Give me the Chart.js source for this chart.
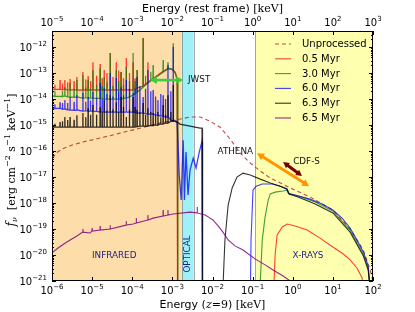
<!DOCTYPE html>
<html lang="en">
<head>
<meta charset="UTF-8">
<title>Spectra at z=9</title>
<script src="https://cdn.jsdelivr.net/npm/chart.js@4.4.0/dist/chart.umd.min.js"></script>
<style>
    body { margin: 0; background: white; }
    #wrap { width: 415px; height: 312px; }
</style>
</head>
<body>
<div id="wrap"><canvas id="sed" width="415" height="312"></canvas></div>
<script>
// every value below is log10: energy in keV (observed frame, z=9) and f_nu in erg cm^-2 s^-1 keV^-1
const unprocessed = [[-5.98,-16.27],[-5.90,-16.08],[-5.75,-15.92],[-5.50,-15.77],[-5.23,-15.65],[-4.80,-15.50],[-4.30,-15.31],[-3.81,-15.12],[-3.31,-14.92],[-2.93,-14.81],[-2.56,-14.69],[-2.31,-14.69],[-2.06,-14.85],[-1.81,-15.08],[-1.56,-15.54],[-1.31,-16.08],[-1.06,-16.46],[-0.81,-16.77],[-0.56,-17.04],[-0.11,-17.38],[0.43,-17.77],[1.00,-18.27],[1.43,-19.00],[1.76,-19.81],[1.93,-20.58],[2.00,-21.00]];

// continuum pieces, then emission lines as [energy, base, peak]
const redIR = [[-6.00,-13.62],[-5.30,-13.65],[-4.55,-13.65],[-4.05,-13.65],[-3.88,-13.58],[-3.73,-13.50],[-3.61,-13.35],[-3.43,-13.15],[-3.26,-12.96],[-3.11,-12.85],[-3.01,-12.85],[-2.93,-12.96],[-2.88,-13.19],[-2.87,-22]];
const redLines = [[-5.80,-13.62,-13.27],[-5.68,-13.62,-13.27],[-5.55,-13.65,-13.23],[-5.38,-13.65,-13.15],[-5.23,-13.65,-12.96],[-5.10,-13.65,-13.12],[-4.98,-13.65,-12.58],[-4.80,-13.65,-12.65],[-4.70,-13.65,-12.88],[-4.55,-13.65,-12.23],[-4.40,-13.65,-12.58],[-4.28,-13.65,-12.96],[-4.15,-13.65,-12.42],[-3.98,-13.65,-12.58],[-3.88,-13.58,-12.88],[-3.73,-13.50,-11.65],[-3.61,-13.35,-12.58],
    [-5.93,-13.63,-13.45],[-5.74,-13.64,-13.40],[-5.61,-13.64,-13.35],[-5.45,-13.64,-13.30],[-5.16,-13.65,-13.25],[-5.04,-13.65,-13.30],[-4.89,-13.65,-13.10],[-4.75,-13.65,-13.20],[-4.63,-13.65,-13.00],[-4.48,-13.65,-13.15],[-4.34,-13.65,-12.90],[-4.22,-13.65,-13.20],[-4.07,-13.65,-13.00],[-3.93,-13.60,-13.20]];
const redX = [[-0.49,-22],[-0.44,-20.00],[-0.39,-19.23],[-0.26,-18.92],[-0.14,-18.81],[0.06,-18.88],[0.36,-19.04],[0.68,-19.35],[1.00,-19.69],[1.26,-19.96],[1.43,-20.19],[1.60,-20.50],[1.73,-20.88],[1.76,-22]];

const greenIR = [[-6.00,-13.88],[-5.55,-13.92],[-5.05,-13.96],[-4.55,-14.00],[-4.18,-13.96],[-3.98,-13.85],[-3.81,-13.65],[-3.61,-13.38],[-3.43,-13.19],[-3.26,-13.00],[-3.11,-12.81],[-3.01,-12.85],[-2.93,-13.00],[-2.88,-13.27],[-2.865,-22]];
const greenLines = [[-5.68,-13.88,-13.54],[-5.55,-13.92,-13.38],[-5.38,-13.92,-13.27],[-5.23,-13.96,-13.08],[-5.10,-13.96,-13.27],[-4.98,-13.96,-12.88],[-4.80,-13.96,-12.81],[-4.70,-14.00,-13.15],[-4.55,-14.00,-12.23],[-4.40,-14.00,-12.88],[-4.28,-14.00,-12.96],[-4.15,-13.96,-12.77],[-3.98,-13.85,-12.23],[-3.88,-13.73,-12.88],[-3.73,-13.54,-11.65],[-3.48,-13.23,-12.69],[-3.23,-12.96,-12.50],[-3.11,-12.81,-12.58],[-2.98,-12.88,-11.85],
    [-5.93,-13.89,-13.70],[-5.74,-13.90,-13.70],[-5.61,-13.91,-13.65],[-5.45,-13.93,-13.60],[-5.16,-13.95,-13.55],[-5.04,-13.96,-13.60],[-4.89,-13.97,-13.45],[-4.75,-13.98,-13.50],[-4.63,-13.99,-13.35],[-4.48,-14.00,-13.50],[-4.34,-14.00,-13.30],[-4.22,-13.97,-13.45],[-4.07,-13.92,-13.30],[-3.93,-13.80,-13.30],[-3.67,-13.46,-13.10],[-3.54,-13.30,-12.95]];
const greenX = [[-0.84,-22],[-0.76,-19.42],[-0.69,-18.54],[-0.61,-17.88],[-0.56,-17.65],[-0.44,-17.58],[-0.24,-17.54],[-0.14,-17.50],[-0.09,-17.65],[0.13,-17.73],[0.56,-17.96],[1.00,-18.31],[1.43,-19.04],[1.76,-19.96],[1.88,-20.50],[1.97,-22]];

const blueIR = [[-6.00,-14.35],[-5.55,-14.42],[-5.05,-14.46],[-4.55,-14.50],[-4.05,-14.50],[-3.56,-14.58],[-3.18,-14.69],[-2.93,-14.85],[-2.88,-14.92],[-2.83,-16.92],[-2.78,-17.88],[-2.73,-15.58],[-2.70,-17.88],[-2.66,-16.04],[-2.61,-17.69],[-2.56,-16.73],[-2.48,-16.27],[-2.41,-16.65],[-2.33,-16.04],[-2.26,-15.62],[-2.25,-22]];
const blueLines = [[-5.80,-14.35,-14.12],[-5.68,-14.38,-14.04],[-5.55,-14.42,-13.92],[-5.38,-14.42,-13.85],[-5.23,-14.46,-13.77],[-5.10,-14.46,-13.92],[-4.98,-14.46,-13.73],[-4.80,-14.50,-13.38],[-4.70,-14.50,-13.58],[-4.55,-14.50,-13.00],[-4.40,-14.50,-13.19],[-4.28,-14.50,-13.54],[-4.15,-14.50,-13.27],[-3.98,-14.50,-13.77],[-3.88,-14.54,-13.15],[-3.73,-14.54,-13.92],[-3.61,-14.58,-12.88],[-3.48,-14.58,-13.65],[-3.36,-14.62,-14.04],[-3.23,-14.65,-13.85],[-3.11,-14.69,-12.69],[-2.98,-14.85,-12.00],
    [-5.93,-14.36,-14.20],[-5.74,-14.39,-14.15],[-5.61,-14.41,-14.15],[-5.45,-14.43,-14.10],[-5.16,-14.45,-14.10],[-5.04,-14.46,-14.05],[-4.89,-14.47,-13.95],[-4.75,-14.48,-14.00],[-4.63,-14.49,-13.80],[-4.48,-14.50,-13.90],[-4.34,-14.50,-13.70],[-4.22,-14.50,-13.85],[-4.07,-14.50,-13.60],[-3.93,-14.52,-13.60],[-3.81,-14.54,-13.50],[-3.67,-14.56,-13.60],[-3.54,-14.58,-13.70],[-3.42,-14.61,-13.90],[-3.29,-14.65,-13.80],[-3.17,-14.69,-14.00],[-3.04,-14.80,-13.70]];
const blueX = [[-1.06,-22],[-1.04,-19.42],[-0.99,-17.50],[-0.91,-17.35],[-0.76,-17.27],[-0.51,-17.27],[-0.31,-17.35],[-0.16,-17.46],[-0.11,-17.62],[0.06,-17.69],[0.43,-17.85],[0.73,-18.04],[1.00,-18.27],[1.23,-18.58],[1.43,-18.96],[1.60,-19.42],[1.76,-19.88],[1.88,-20.42],[1.97,-22]];

const blackIR = [[-6.00,-15.08],[-5.30,-15.08],[-4.55,-15.08],[-3.81,-15.04],[-3.31,-14.96],[-3.01,-14.85],[-2.91,-14.85],[-2.81,-14.96],[-2.56,-15.04],[-2.31,-15.12],[-2.26,-15.12],[-2.25,-22]];
const blackLines = [[-5.80,-15.08,-14.88],[-5.68,-15.08,-14.69],[-5.55,-15.08,-14.69],[-5.38,-15.08,-14.62],[-5.23,-15.08,-14.54],[-5.10,-15.08,-14.35],[-4.98,-15.08,-14.23],[-4.80,-15.08,-14.31],[-4.70,-15.08,-14.04],[-4.55,-15.08,-13.85],[-4.40,-15.08,-14.12],[-4.28,-15.08,-13.92],[-4.15,-15.08,-14.69],[-3.98,-15.08,-13.92],[-3.88,-15.06,-14.42],[-3.73,-15.04,-14.15],[-3.61,-15.04,-14.35],[-3.48,-15.02,-14.54],[-3.36,-15.00,-14.50],[-3.23,-14.96,-14.23],[-3.11,-14.92,-13.85],[-2.98,-14.85,-13.46],
    [-5.93,-15.08,-14.95],[-5.74,-15.08,-14.85],[-5.61,-15.08,-14.80],[-5.45,-15.08,-14.80],[-5.16,-15.08,-14.70],[-5.04,-15.08,-14.60],[-4.89,-15.08,-14.60],[-4.75,-15.08,-14.50],[-4.63,-15.08,-14.45],[-4.48,-15.08,-14.40],[-4.34,-15.08,-14.50],[-4.22,-15.08,-14.30],[-4.07,-15.08,-14.40],[-3.93,-15.07,-14.30],[-3.81,-15.04,-14.50],[-3.67,-15.03,-14.60],[-3.54,-15.01,-14.50],[-3.42,-14.99,-14.60],[-3.29,-14.96,-14.70],[-3.17,-14.92,-14.60],[-3.04,-14.86,-14.50]];
const blackX = [[-1.76,-22],[-1.69,-19.42],[-1.61,-18.08],[-1.51,-17.42],[-1.39,-17.00],[-1.24,-16.85],[-1.06,-16.92],[-0.81,-17.08],[-0.56,-17.23],[-0.26,-17.38],[-0.14,-17.46],[-0.09,-17.65],[0.13,-17.77],[0.56,-18.04],[1.00,-18.38],[1.43,-19.12],[1.76,-20.04],[1.88,-20.58],[1.97,-22]];

const purple = [[-6.00,-19.92],[-5.85,-19.73],[-5.63,-19.50],[-5.38,-19.27],[-5.05,-19.15],[-4.55,-19.00],[-3.98,-18.81],[-3.48,-18.58],[-2.98,-18.42],[-2.56,-18.35],[-2.38,-18.38],[-2.18,-18.46],[-2.06,-18.58],[-1.99,-18.65],[-1.86,-18.88],[-1.74,-19.12],[-1.61,-19.42],[-1.44,-19.65],[-1.24,-19.81],[-0.94,-20.15],[-0.69,-20.38],[-0.49,-20.58],[-0.24,-20.81],[-0.06,-21.00],[0.00,-22]];
const purpleLines = [[-5.23,-19.12,-19.00],[-5.00,-19.08,-18.96],[-4.80,-19.04,-18.88],[-4.55,-19.00,-18.85],[-4.15,-18.85,-18.69],[-3.90,-18.77,-18.58],[-3.61,-18.65,-18.46],[-3.23,-18.50,-18.27],[-3.11,-18.46,-18.27],[-2.38,-18.38,-18.15]];

const legendLabels = ['Unprocessed', '0.5 Myr', '3.0 Myr', '6.0 Myr', '6.3 Myr', '6.5 Myr'];

// wavelength bands (keV, observed)
const bandNames = ['INFRARED', 'OPTICAL', 'X-RAYS'];
const bandFrom = [1e-6, 1.7e-3, 0.115];
const bandTo = [1.7e-3, 3.4e-3, 100];

// survey ranges: [logE1, logF1, logE2, logF2]
const jwst = [-3.56, -13.27, -2.73, -13.27];
const athena = [-0.89, -16.08, 0.41, -17.35];
const cdfs = [-0.24, -16.42, 0.23, -16.96];

const yMaxLog = -11.38;

const P = v => Math.pow(10, v);

function build(cont, lines) {
    const pts = cont.map(p => ({x: P(p[0]), y: P(p[1])}));
    (lines || []).forEach(s => {
        pts.push({x: P(s[0] - 0.004), y: P(s[1])}, {x: P(s[0]), y: P(s[2])}, {x: P(s[0] + 0.004), y: P(s[1])});
    });
    return pts.sort((a, b) => a.x - b.x);
}

const colors = ['rgba(180,45,45,0.85)', 'rgba(255,0,0,0.75)', 'rgba(0,128,0,0.75)', 'rgba(0,0,255,0.75)', 'rgba(0,0,0,0.8)', 'rgba(128,0,128,0.85)'];

function ds(data, idx, order, extra) {
    return Object.assign({
        data: data, borderColor: colors[idx], borderWidth: 1.1,
        pointRadius: 0, fill: false, tension: 0, order: order
    }, extra || {});
}

const datasets = [
    ds(build(unprocessed), 0, 7, {borderDash: [4, 3]}),
    ds(build(redIR, redLines), 1, 6, {borderWidth: 1.3}),
    ds(build(redX), 1, 6),
    ds(build(greenIR, greenLines), 2, 5, {borderWidth: 1.3}),
    ds(build(greenX), 2, 5),
    ds(build(blueIR, blueLines), 3, 4, {borderWidth: 1.3}),
    ds(build(blueX), 3, 4),
    ds(build(blackIR, blackLines), 4, 3, {borderWidth: 1.3}),
    ds(build(blackX), 4, 3),
    ds(build(purple, purpleLines), 5, 2)
];

const SANS = 'DejaVu Sans, sans-serif';
const SERIF = 'DejaVu Serif, serif';

function rich(ctx, parts, x, y, align) {
    let w = 0;
    parts.forEach(p => { ctx.font = p[1]; w += ctx.measureText(p[0]).width; });
    let cx = align === 'center' ? x - w / 2 : (align === 'right' ? x - w : x);
    ctx.textAlign = 'left';
    ctx.textBaseline = 'alphabetic';
    parts.forEach(p => {
        ctx.font = p[1];
        ctx.fillText(p[0], cx, y + (p[2] || 0));
        cx += ctx.measureText(p[0]).width;
    });
}

function pow10(exp) {
    const sup = exp < 0 ? '\u2212' + Math.abs(exp) : String(exp);
    return [['10', '10px ' + SANS, 0], [sup, '7px ' + SANS, -5]];
}

function arrow(ctx, x1, y1, x2, y2, color, w, head) {
    const ang = Math.atan2(y2 - y1, x2 - x1);
    const c = Math.cos(ang), s = Math.sin(ang);
    ctx.strokeStyle = color;
    ctx.fillStyle = color;
    ctx.lineWidth = w;
    ctx.beginPath();
    ctx.moveTo(x1 + c * head * 0.7, y1 + s * head * 0.7);
    ctx.lineTo(x2 - c * head * 0.7, y2 - s * head * 0.7);
    ctx.stroke();
    [[x1, y1, -1], [x2, y2, 1]].forEach(([px, py, d]) => {
        const bx = px - d * c * head, by = py - d * s * head;
        ctx.beginPath();
        ctx.moveTo(px, py);
        ctx.lineTo(bx - s * head * 0.55, by + c * head * 0.55);
        ctx.lineTo(bx + s * head * 0.55, by - c * head * 0.55);
        ctx.closePath();
        ctx.fill();
    });
}

const decor = {
    id: 'decor',
    beforeDatasetsDraw(chart) {
        const {ctx, chartArea: a, scales} = chart;
        const x = scales.x;
        const fills = ['rgb(253,221,170)', 'rgb(160,241,247)', 'rgb(255,255,176)'];
        ctx.save();
        bandFrom.forEach((f, i) => {
            const l = x.getPixelForValue(f), r = x.getPixelForValue(bandTo[i]);
            ctx.fillStyle = fills[i];
            ctx.fillRect(l, a.top, r - l, a.bottom - a.top);
        });
        ctx.strokeStyle = 'rgba(110,110,110,0.6)';
        ctx.lineWidth = 1;
        [bandFrom[1], bandTo[1], bandFrom[2]].forEach(v => {
            const p = Math.round(x.getPixelForValue(v)) + 0.5;
            ctx.beginPath(); ctx.moveTo(p, a.top); ctx.lineTo(p, a.bottom); ctx.stroke();
        });
        ctx.restore();
    },
    afterDatasetsDraw(chart) {
        const {ctx, chartArea: a, scales} = chart;
        const x = scales.x, x2 = scales.x2, y = scales.y;
        const X = v => x.getPixelForValue(P(v)), Y = v => y.getPixelForValue(P(v));
        ctx.save();

        // survey arrows and their labels
        arrow(ctx, X(jwst[0]), Y(jwst[1]), X(jwst[2]), Y(jwst[3]), 'rgb(60,205,60)', 2.6, 7);
        arrow(ctx, X(athena[0]), Y(athena[1]), X(athena[2]), Y(athena[3]), 'rgb(255,150,0)', 3, 7);
        arrow(ctx, X(cdfs[0]), Y(cdfs[1]), X(cdfs[2]), Y(cdfs[3]), 'rgb(120,0,0)', 3, 6);
        ctx.fillStyle = '#111';
        ctx.font = '8.8px ' + SANS;
        ctx.textBaseline = 'middle';
        ctx.textAlign = 'left';
        ctx.fillText('JWST', X(-2.61), Y(-13.27));
        ctx.textAlign = 'right';
        ctx.fillText('ATHENA', X(-0.99), Y(-16.04));
        ctx.textAlign = 'left';
        ctx.fillText('CDF-S', X(0.01), Y(-16.42));

        // band names
        ctx.fillStyle = '#1c1c8c';
        ctx.textAlign = 'center';
        ctx.fillText(bandNames[0], X(-4.45), Y(-20.04));
        ctx.fillText(bandNames[2], X(0.38), Y(-20.04));
        ctx.save();
        ctx.translate(X(-2.62), Y(-19.96));
        ctx.rotate(-Math.PI / 2);
        ctx.fillText(bandNames[1], 0, 0);
        ctx.restore();

        // legend
        ctx.font = '10px ' + SANS;
        ctx.textAlign = 'left';
        ctx.textBaseline = 'middle';
        legendLabels.forEach((lab, i) => {
            const ly = a.top + 13 + i * 14.8;
            ctx.strokeStyle = colors[i];
            ctx.lineWidth = 1.1;
            ctx.setLineDash(i === 0 ? [4, 3] : []);
            ctx.beginPath(); ctx.moveTo(a.right - 98, ly); ctx.lineTo(a.right - 82, ly); ctx.stroke();
            ctx.fillStyle = '#000';
            ctx.fillText(lab, a.right - 71, ly + 0.5);
        });
        ctx.setLineDash([]);

        // frame
        ctx.strokeStyle = '#000';
        ctx.lineWidth = 1;
        ctx.strokeRect(a.left + 0.5, a.top + 0.5, a.right - a.left - 1, a.bottom - a.top - 1);

        // ticks
        ctx.beginPath();
        for (let e = -6; e <= 2; e++) {
            const p = Math.round(X(e)) + 0.5;
            ctx.moveTo(p, a.bottom); ctx.lineTo(p, a.bottom - 4);
            ctx.moveTo(p, a.top); ctx.lineTo(p, a.top + 4);
        }
        for (let e = -21; e <= -12; e++) {
            for (let k = 1; k <= 9; k++) {
                const v = k * Math.pow(10, e);
                if (v > P(yMaxLog)) break;
                const p = Math.round(y.getPixelForValue(v)) + 0.5;
                const len = k === 1 ? 4 : 2;
                ctx.moveTo(a.left, p); ctx.lineTo(a.left + len, p);
                ctx.moveTo(a.right, p); ctx.lineTo(a.right - len, p);
            }
        }
        ctx.stroke();

        // tick labels
        ctx.fillStyle = '#000';
        for (let e = -6; e <= 2; e++) rich(ctx, pow10(e), X(e), a.bottom + 13, 'center');
        for (let e = -5; e <= 3; e++) rich(ctx, pow10(e), x2.getPixelForValue(P(e)), a.top - 5, 'center');
        for (let e = -21; e <= -12; e++) rich(ctx, pow10(e), a.left - 5, Y(e) + 4, 'right');

        // axis titles
        const cx = (a.left + a.right) / 2;
        rich(ctx, [['Energy (rest frame) ', '11px ' + SANS], ['[keV]', '11px ' + SERIF]], cx, 12, 'center');
        rich(ctx, [['Energy (', '11px ' + SANS], ['z', 'italic 11px ' + SERIF], ['=9', '11px ' + SERIF], [') ', '11px ' + SANS], ['[keV]', '11px ' + SERIF]], cx, 308, 'center');
        ctx.save();
        ctx.translate(15, (a.top + a.bottom) / 2 + 4);
        ctx.rotate(-Math.PI / 2);
        rich(ctx, [
            ['f', 'italic 12px ' + SERIF], ['\u03bd', 'italic 8px ' + SERIF, 2],
            ['  [erg cm', '11px ' + SERIF], ['\u22122', '8px ' + SERIF, -5],
            [' s', '11px ' + SERIF], ['\u22121', '8px ' + SERIF, -5],
            [' keV', '11px ' + SERIF], ['\u22121', '8px ' + SERIF, -5],
            [']', '11px ' + SERIF]
        ], 0, 0, 'center');
        ctx.restore();

        ctx.restore();
    }
};

new Chart(document.getElementById('sed'), {
    type: 'line',
    data: {datasets: datasets},
    options: {
        responsive: false,
        animation: false,
        layout: {padding: {left: 52, right: 42, top: 31, bottom: 31}},
        plugins: {legend: {display: false}, tooltip: {enabled: false}},
        scales: {
            x: {type: 'logarithmic', min: 1e-6, max: 1e2, display: false},
            x2: {type: 'logarithmic', position: 'top', min: 1e-5, max: 1e3, display: false},
            y: {type: 'logarithmic', min: 1e-21, max: P(yMaxLog), display: false}
        }
    },
    plugins: [decor]
});
</script>
</body>
</html>
